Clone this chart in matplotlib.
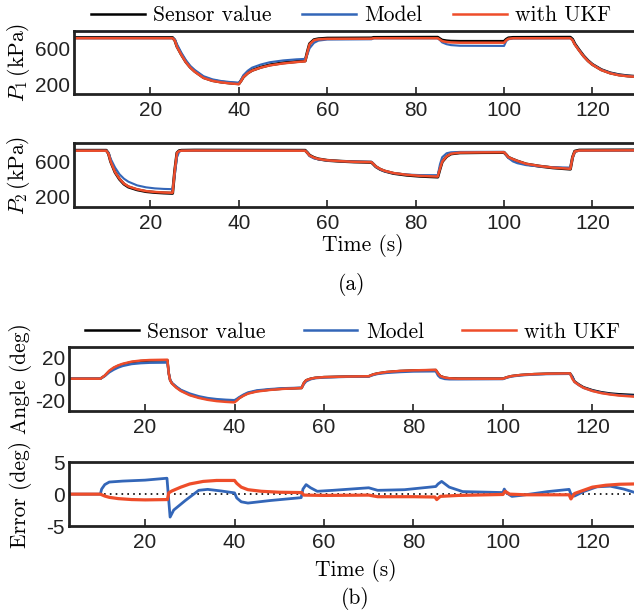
import matplotlib
matplotlib.use("Agg")
import matplotlib.pyplot as plt
from matplotlib.lines import Line2D

plt.rcParams["font.family"] = "Liberation Sans"
plt.rcParams["mathtext.fontset"] = "cm"
plt.rcParams["axes.unicode_minus"] = False

#Colours
C_SENSOR = "black"
C_MODEL = "#3366b8"
C_UKF = "#ee4d2a"
SERIF = "cmr10"

#Series names
labels = ["Sensor value", "Model", "with UKF"]

#P1 (kPa)
t_p1 = [2.7, 25, 25.5, 26, 27, 28, 29, 30, 32, 34, 36, 38, 40, 40.5, 41, 42, 43, 45, 47, 50,
        53, 55, 55.5, 56, 57, 58, 60, 70, 70.5, 85, 85.5, 86, 87, 88, 90, 100, 100.5, 101, 102,
        115, 115.5, 116, 117, 118, 119, 120, 122, 124, 126, 128, 129.4]
p1_sensor = [718, 718, 690, 620, 530, 450, 390, 345, 275, 242, 225, 214, 206, 240, 280, 325, 355, 390, 415, 438,
             452, 460, 560, 650, 695, 705, 712, 714, 720, 722, 705, 690, 682, 678, 676, 676, 700, 715, 720,
             722, 700, 650, 580, 515, 462, 420, 362, 326, 305, 293, 288]
p1_model = [712, 712, 700, 645, 550, 470, 405, 360, 290, 255, 236, 225, 218, 250, 300, 350, 385, 420, 445, 465,
            477, 482, 530, 600, 660, 685, 697, 700, 710, 710, 690, 665, 645, 635, 628, 626, 680, 700, 708,
            710, 692, 645, 578, 512, 460, 420, 362, 327, 306, 294, 289]
p1_ukf = [712, 712, 688, 615, 525, 445, 385, 340, 270, 238, 221, 210, 201, 235, 278, 322, 352, 386, 410, 432,
          447, 455, 555, 645, 690, 700, 705, 707, 712, 712, 696, 680, 670, 665, 662, 662, 690, 706, 711,
          712, 690, 642, 574, 510, 458, 417, 358, 322, 300, 289, 284]

#P2 (kPa)
t_p2 = [2.7, 10, 10.5, 11, 12, 13, 14, 15, 17, 19, 21, 23, 25, 25.5, 26, 26.5, 27, 30, 55, 55.5,
        56, 57, 58, 60, 63, 66, 70, 70.5, 71, 72, 73, 75, 78, 81, 85, 85.5, 86, 87, 88, 90,
        95, 100, 100.5, 101, 102, 103, 105, 108, 111, 115, 115.5, 116, 117, 129.4]
p2_sensor = [728, 728, 692, 600, 478, 400, 345, 312, 280, 260, 250, 244, 240, 500, 700, 724, 728, 730, 728, 702,
             672, 646, 630, 614, 604, 597, 592, 568, 542, 512, 492, 466, 446, 434, 425, 515, 598, 658, 688, 700,
             703, 704, 678, 648, 626, 606, 572, 548, 530, 515, 650, 718, 730, 732]
p2_model = [724, 724, 702, 632, 532, 456, 406, 372, 330, 308, 296, 290, 287, 450, 650, 712, 724, 726, 724, 704,
            662, 636, 626, 612, 605, 600, 598, 572, 540, 510, 490, 468, 453, 447, 446, 570, 650, 695, 706, 710,
            711, 711, 672, 640, 602, 582, 560, 545, 536, 532, 640, 712, 724, 726]
p2_ukf = [724, 724, 690, 600, 480, 405, 350, 318, 285, 265, 255, 249, 246, 500, 700, 720, 724, 726, 724, 700,
          670, 645, 630, 615, 605, 598, 594, 570, 545, 515, 495, 470, 450, 438, 430, 520, 600, 660, 690, 702,
          705, 706, 680, 650, 628, 608, 575, 550, 532, 518, 650, 715, 726, 728]

#Angle (deg)
t_ang = [3.0, 10, 11, 12, 13, 14, 15, 17, 19, 21, 25, 25.3, 25.6, 26, 27, 28, 30, 32, 34, 36,
         38, 40, 40.5, 41, 42, 43, 45, 48, 51, 55, 55.5, 56, 57, 58, 60, 65, 70, 71, 72, 74,
         77, 80, 85, 85.5, 86, 87, 88, 90, 100, 101, 102, 104, 107, 110, 115, 115.5, 116, 117, 118, 120,
         122, 124, 126, 129.3]
ang_sensor = [0, 0, 2.8, 7, 10, 12, 13.5, 15.5, 16.5, 17, 17.3, 5, -1.2, -4.2, -8, -11, -15, -17.4, -19.1, -20.2,
              -20.8, -21.2, -20, -18.2, -15.6, -13.6, -11.6, -10.2, -9.3, -8.7, -4, -1.5, 0, 0.8, 1.5, 2, 2.3, 4, 5, 6.2,
              7.2, 7.7, 8.1, 5, 2.5, 1, 0.4, 0.1, 0.1, 1.5, 2.5, 3.5, 4.3, 4.7, 5, 2, -2.5, -5.5, -8, -10.8,
              -12.7, -13.9, -14.6, -15.3]
ang_model = [0, 0, 2.5, 6, 8.5, 10.5, 12, 13.8, 14.6, 15, 15.2, 5, -1, -4, -7.5, -10.5, -14, -16.5, -18.2, -19.2,
             -19.8, -20.2, -19, -17.5, -15, -13, -11, -9.8, -9, -8.5, -5, -2.5, -0.5, 0.5, 1.2, 1.8, 2, 3.5, 4.5, 5.5,
             6.3, 6.8, 7, 3, 1, -0.2, -0.5, -0.5, -0.3, 1.2, 2.2, 3.2, 4, 4.4, 4.6, 1.5, -3, -6, -8.5, -11.3,
             -13.2, -14.5, -15.4, -16.2]
ang_ukf = [0, 0, 3, 7.5, 10.5, 12.5, 14, 16, 17, 17.5, 17.8, 5, -1.5, -4.5, -8.5, -11.5, -15.5, -18, -19.8, -21,
           -21.7, -22.2, -20.5, -18.5, -16, -14, -12, -10.5, -9.5, -8.8, -4, -1.5, 0, 0.8, 1.5, 2, 2.3, 4, 5, 6.3,
           7.3, 7.8, 8.3, 5, 2.5, 1, 0.4, 0, 0, 1.5, 2.5, 3.5, 4.3, 4.7, 5, 0, -3, -6, -8.5, -11.5,
           -13.5, -14.8, -15.8, -16.8]

#Error (deg)
t_err_model = [3.0, 10, 10.3, 11, 12, 15, 20, 24.9, 25.3, 25.6, 26.4, 29, 32, 34, 37, 40, 40.5, 41.5, 43, 48,
               54.9, 55.3, 56, 57, 58.5, 62, 70, 72, 78, 85, 85.5, 86.3, 88, 91, 100, 100.3, 100.8, 102, 104, 110,
               114.8, 115.2, 116, 118, 121, 124, 127, 129.3]
err_model = [0, 0, 0.8, 1.5, 1.9, 2.05, 2.2, 2.5, -1, -3.6, -2.5, -1, 0.6, 0.75, 0.5, 0.2, -0.6, -1.2, -1.4, -1.0,
             -0.55, 0.8, 1.5, 1.0, 0.45, 0.6, 1.0, 0.6, 0.7, 1.2, 1.6, 2.0, 1.1, 0.4, 0.25, 0.8, 0.2, -0.35, -0.2, 0.4,
             0.75, 0.0, -0.3, 0.4, 1.15, 1.25, 0.8, 0.3]
t_err_ukf = [3.0, 10, 11, 12, 14, 17, 20, 25, 25.3, 26, 28, 30, 33, 36, 40, 40.5, 41.5, 43, 46, 50,
             55, 55.5, 60, 70, 72, 80, 84.8, 85.2, 86, 90, 100, 100.5, 101.5, 105, 114.8, 115.2, 116, 118, 120, 123,
             126, 129.3]
err_ukf = [0, 0, -0.3, -0.5, -0.7, -0.85, -0.9, -0.85, 0.2, 0.5, 1.1, 1.6, 2.0, 2.15, 2.15, 1.7, 1.1, 0.7, 0.45, 0.3,
           0.25, -0.15, -0.2, -0.15, -0.4, -0.4, -0.45, -0.85, -0.35, -0.2, -0.05, 0.45, 0.0, -0.1, -0.1, -0.75, 0.1, 0.6, 1.1, 1.4,
           1.55, 1.6]
t_err_zero = [3.0, 129.3]
err_zero = [0, 0]

W, H = 634, 615
fig = plt.figure(figsize=(W / 100, H / 100), dpi=100)

def box(left, top, bottom):
    return [left / W, 1 - bottom / H, (W - left) / W, (bottom - top) / H]

ax1 = fig.add_axes(box(74, 31, 93.7))
ax2 = fig.add_axes(box(74, 143.3, 206.7))
ax3 = fig.add_axes(box(69, 346.7, 410.7))
ax4 = fig.add_axes(box(69, 462.3, 526))

ax1.plot(t_p1, p1_sensor, color=C_SENSOR, lw=2.2)
ax1.plot(t_p1, p1_model, color=C_MODEL, lw=1.5)
ax1.plot(t_p1, p1_ukf, color=C_UKF, lw=1.8)
ax2.plot(t_p2, p2_sensor, color=C_SENSOR, lw=2.2)
ax2.plot(t_p2, p2_model, color=C_MODEL, lw=1.5)
ax2.plot(t_p2, p2_ukf, color=C_UKF, lw=1.8)
ax3.plot(t_ang, ang_sensor, color=C_SENSOR, lw=1.8)
ax3.plot(t_ang, ang_model, color=C_MODEL, lw=1.8)
ax3.plot(t_ang, ang_ukf, color=C_UKF, lw=1.8)
ax4.plot(t_err_zero, err_zero, color=C_SENSOR, lw=1.2, ls=(0, (1, 2.5)))
ax4.plot(t_err_model, err_model, color=C_MODEL, lw=2.0)
ax4.plot(t_err_ukf, err_ukf, color=C_UKF, lw=2.3)

for ax in [ax1, ax2]:
    ax.set_xlim(2.7, 129.4)
    ax.set_yticks([200, 600])
for ax in [ax3, ax4]:
    ax.set_xlim(3.0, 129.3)
ax1.set_ylim(95, 792)
ax2.set_ylim(88, 808)
ax3.set_ylim(-30, 30)
ax3.set_yticks([-20, 0, 20])
ax4.set_ylim(-5, 5)
ax4.set_yticks([-5, 0, 5])

for ax in [ax1, ax2, ax3, ax4]:
    ax.set_xticks([20, 40, 60, 80, 100, 120])
    ax.spines["right"].set_visible(False)
    for s in ["left", "top", "bottom"]:
        ax.spines[s].set_linewidth(2)
        ax.spines[s].set_color("#222222")
    ax.tick_params(axis="x", direction="in", length=5, width=1.2, pad=5, labelsize=15, colors="#222222")
    ax.tick_params(axis="y", direction="in", length=0, pad=3, labelsize=15, colors="#222222")

ax1.set_ylabel(r"$P_1\,$(kPa)", fontfamily=SERIF, fontsize=15.5)
ax2.set_ylabel(r"$P_2\,$(kPa)", fontfamily=SERIF, fontsize=15.5)
ax3.set_ylabel("Angle (deg)", fontfamily=SERIF, fontsize=15.5)
ax4.set_ylabel("Error (deg)", fontfamily=SERIF, fontsize=15.5)
ax1.yaxis.set_label_coords(-0.075, 0.5)
ax2.yaxis.set_label_coords(-0.075, 0.5)
ax3.yaxis.set_label_coords(-0.066, 0.5)
ax4.yaxis.set_label_coords(-0.066, 0.5)

handles = [Line2D([], [], color=C_SENSOR, lw=1.8),
           Line2D([], [], color=C_MODEL, lw=1.8),
           Line2D([], [], color=C_UKF, lw=1.8)]
for x0, y0, gap in [(91 / W, 1 - 15.7 / H, 1.4), (85 / W, 1 - 332 / H, 1.75)]:
    fig.legend(handles, labels, loc="center left", bbox_to_anchor=(x0, y0), ncol=3, frameon=False,
               prop={"family": SERIF, "size": 15.5}, handlelength=2.5, handletextpad=0.4,
               columnspacing=gap, borderpad=0, borderaxespad=0)

fig.text(363 / W, 1 - 245 / H, "Time (s)", ha="center", va="center", fontfamily=SERIF, fontsize=15.5)
fig.text(352 / W, 1 - 284 / H, "(a)", ha="center", va="center", fontfamily=SERIF, fontsize=15.5)
fig.text(356 / W, 1 - 570 / H, "Time (s)", ha="center", va="center", fontfamily=SERIF, fontsize=15.5)
fig.text(355 / W, 1 - 598 / H, "(b)", ha="center", va="center", fontfamily=SERIF, fontsize=15.5)

fig.savefig("out.png", dpi=100)
